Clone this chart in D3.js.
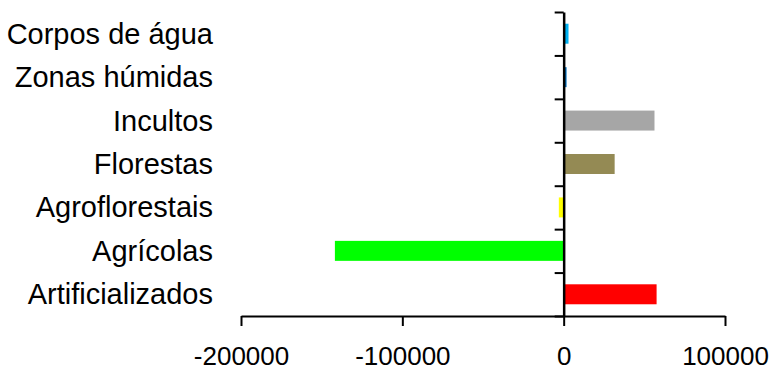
<!DOCTYPE html>
<html>
<head>
<meta charset="utf-8">
<script src="https://cdn.jsdelivr.net/npm/d3@7"></script>
<style>
  body { margin: 0; background: #fff; }
  text { font-family: "Liberation Sans", Arial, sans-serif; fill: #000; }
</style>
</head>
<body>
<div class="barChart"></div>
<script>
// categories from top to bottom
var categories = ["Corpos de água", "Zonas húmidas", "Incultos", "Florestas", "Agroflorestais", "Agrícolas", "Artificializados"];
var values = [3000, 1800, 56300, 31600, -3000, -141800, 57600];
var colors = ["#00B0F0", "#0070C0", "#A6A6A6", "#948A54", "#FFFF00", "#00FF00", "#FF0000"];
var xTicks = [-200000, -100000, 0, 100000];

function init() {
  var w = 776;
  var h = 370;
  var top = 12;
  var bottom = 316;

  var svg = d3.select(".barChart")
    .append("svg")
    .attr("width", w)
    .attr("height", h);

  var xScale = d3.scaleLinear()
    .domain([-200000, 100000])
    .range([241, 725]);

  var yScale = d3.scaleBand()
    .domain(categories)
    .range([top, bottom])
    .padding(0);

  var barH = yScale.bandwidth() * 0.46;

  svg.selectAll("rect.bar")
    .data(categories)
    .enter()
    .append("rect")
    .attr("class", "bar")
    .attr("x", function(d, i) { return xScale(Math.min(0, values[i])); })
    .attr("y", function(d) { return yScale(d) + (yScale.bandwidth() - barH) / 2; })
    .attr("width", function(d, i) { return Math.abs(xScale(values[i]) - xScale(0)); })
    .attr("height", barH)
    .style("fill", function(d, i) { return colors[i]; });

  // x axis
  var xAxis = svg.append("g")
    .attr("transform", "translate(0," + bottom + ")")
    .call(d3.axisBottom(xScale)
      .tickValues(xTicks)
      .tickFormat(d3.format("d"))
      .tickSize(10)
      .tickSizeOuter(0));
  xAxis.select(".domain").attr("stroke", "#000").attr("stroke-width", 2);
  xAxis.selectAll(".tick line").attr("stroke", "#000").attr("stroke-width", 2);
  xAxis.selectAll(".tick text")
    .attr("y", 0)
    .attr("dy", 0)
    .attr("transform", "translate(0,49)")
    .style("font-size", "26px")
    .style("font-family", "Liberation Sans, Arial, sans-serif")
    .attr("fill", "#000")
    .text(function(d) { return d === 0 ? "0" : String(d); });

  // y axis: line at zero with boundary ticks
  var yBound = d3.scaleLinear()
    .domain([0, categories.length])
    .range([bottom, top]);

  var yAxis = svg.append("g")
    .attr("transform", "translate(" + xScale(0) + ",0)")
    .call(d3.axisLeft(yBound)
      .tickValues(d3.range(0, categories.length + 1))
      .tickFormat("")
      .tickSize(9)
      .tickSizeOuter(0));
  yAxis.select(".domain").attr("stroke", "#000").attr("stroke-width", 2.5);
  yAxis.selectAll(".tick line").attr("stroke", "#000").attr("stroke-width", 2);

  // category labels
  svg.selectAll("text.cat")
    .data(categories)
    .enter()
    .append("text")
    .attr("class", "cat")
    .attr("x", 213)
    .attr("y", function(d) { return yScale(d) + yScale.bandwidth() / 2 + 10; })
    .attr("text-anchor", "end")
    .style("font-size", "29px")
    .text(function(d) { return d; });
}

window.onload = init;
</script>
</body>
</html>
